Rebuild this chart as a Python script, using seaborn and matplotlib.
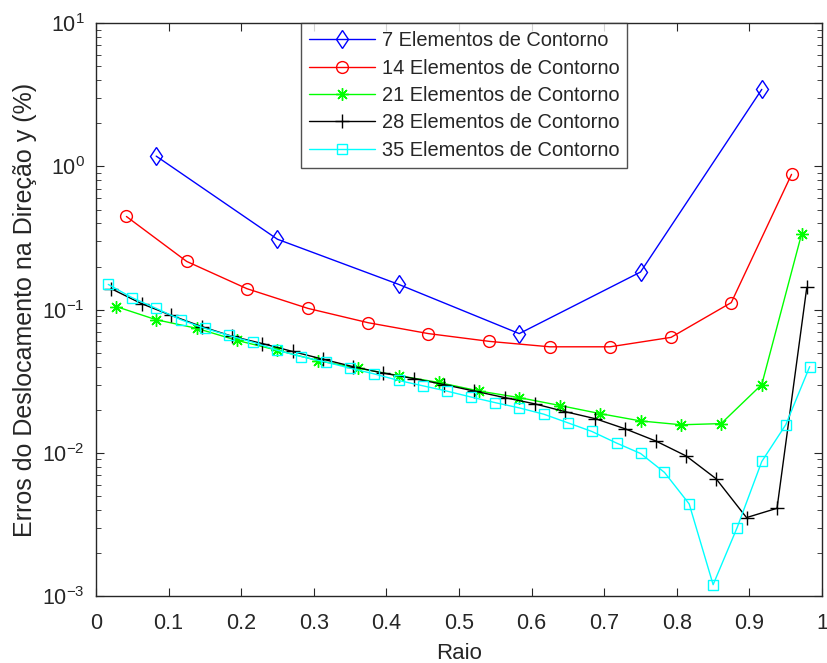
import matplotlib
matplotlib.use('Agg')
import matplotlib.pyplot as plt
import seaborn as sns

# valores
x7 = [0.083, 0.25, 0.417, 0.583, 0.75, 0.917]
y7 = [1.18, 0.31, 0.15, 0.068, 0.183, 3.45]

x14 = [0.042, 0.125, 0.208, 0.292, 0.375, 0.458, 0.542, 0.625, 0.708, 0.792, 0.875, 0.958]
y14 = [0.447, 0.217, 0.14, 0.102, 0.081, 0.068, 0.060, 0.055, 0.055, 0.064, 0.112, 0.88]

x21 = [0.028, 0.083, 0.139, 0.194, 0.25, 0.306, 0.361, 0.417, 0.472, 0.528, 0.583, 0.639,
       0.694, 0.75, 0.806, 0.861, 0.917, 0.972]
y21 = [0.105, 0.085, 0.074, 0.061, 0.052, 0.044, 0.039, 0.0346, 0.031, 0.027, 0.0243, 0.0214,
       0.0188, 0.0167, 0.0157, 0.016, 0.030, 0.34]

x28 = [0.021, 0.063, 0.104, 0.146, 0.188, 0.229, 0.271, 0.313, 0.354, 0.396, 0.438, 0.479,
       0.521, 0.563, 0.604, 0.646, 0.688, 0.729, 0.771, 0.813, 0.854, 0.896, 0.938, 0.979]
y28 = [0.14, 0.110, 0.091, 0.076, 0.065, 0.058, 0.051, 0.045, 0.040, 0.036, 0.033, 0.030,
       0.027, 0.0243, 0.022, 0.0194, 0.0173, 0.0147, 0.0121, 0.0095, 0.0066, 0.00353, 0.0041, 0.143]

x35 = [0.017, 0.05, 0.083, 0.117, 0.15, 0.183, 0.217, 0.25, 0.283, 0.317, 0.35, 0.383,
       0.417, 0.45, 0.483, 0.517, 0.55, 0.583, 0.617, 0.65, 0.683, 0.717, 0.75, 0.783,
       0.817, 0.85, 0.883, 0.917, 0.95, 0.983]
y35 = [0.15, 0.121, 0.102, 0.085, 0.074, 0.066, 0.059, 0.052, 0.047, 0.043, 0.039, 0.0356,
       0.032, 0.0294, 0.027, 0.0245, 0.0224, 0.0206, 0.0186, 0.0162, 0.0141, 0.0117, 0.0099, 0.0073,
       0.0044, 0.0012, 0.0030, 0.0087, 0.0157, 0.040]

labels = ['7 Elementos de Contorno', '14 Elementos de Contorno', '21 Elementos de Contorno',
          '28 Elementos de Contorno', '35 Elementos de Contorno']
xtick_labels = ['0', '0.1', '0.2', '0.3', '0.4', '0.5', '0.6', '0.7', '0.8', '0.9', '1']

sns.set_style('ticks')
plt.rcParams['font.family'] = ['Liberation Sans', 'DejaVu Sans']
plt.rcParams['mathtext.fontset'] = 'custom'
plt.rcParams['mathtext.rm'] = 'Liberation Sans'
plt.rcParams['mathtext.it'] = 'Liberation Sans'

fig = plt.figure(figsize=(8.27, 6.63), dpi=100)
ax = fig.add_axes([0.116, 0.101, 0.878, 0.864])

series = [
    (x7, y7, 'blue', 'd', 9.5),
    (x14, y14, 'red', 'o', 8.5),
    (x21, y21, 'lime', (8, 2, 0), 9),
    (x28, y28, 'black', '+', 10),
    (x35, y35, 'cyan', 's', 7.2),
]
for (xs, ys, c, m, ms), lab in zip(series, labels):
    sns.lineplot(x=xs, y=ys, ax=ax, color=c, marker=m, markersize=ms,
                 markerfacecolor='none', markeredgecolor=c, markeredgewidth=1.0,
                 linewidth=1.0, label=lab)

ax.set_yscale('log')
ax.set_xlim(0, 1)
ax.set_ylim(1e-3, 1e1)
ax.set_xticks([i / 10 for i in range(11)])
ax.set_xticklabels(xtick_labels)

grey = '#262626'
for s in ax.spines.values():
    s.set_color(grey)
    s.set_linewidth(1.0)
    s.set_visible(True)
ax.tick_params(which='both', direction='in', top=True, right=True, colors=grey,
               labelsize=15.5, labelcolor=grey)
ax.tick_params(which='major', length=6)
ax.tick_params(which='minor', length=3.5)
ax.tick_params(axis='x', which='major', pad=12)
ax.tick_params(axis='y', which='major', pad=8)

ax.set_xlabel('Raio', fontsize=16, color=grey, labelpad=7)
ax.set_ylabel('Erros do Deslocamento na Direção y (%)', fontsize=18, color=grey, labelpad=4)

leg = ax.legend(loc='upper left', bbox_to_anchor=(0.282, 1.0), fontsize=14.4,
                frameon=True, fancybox=False, borderaxespad=0, handlelength=3.3,
                labelspacing=0.42, borderpad=0.4, handletextpad=0.35)
leg.get_frame().set_edgecolor(grey)
leg.get_frame().set_linewidth(1.0)
for t in leg.get_texts():
    t.set_color(grey)

fig.savefig('out.png', dpi=100)
